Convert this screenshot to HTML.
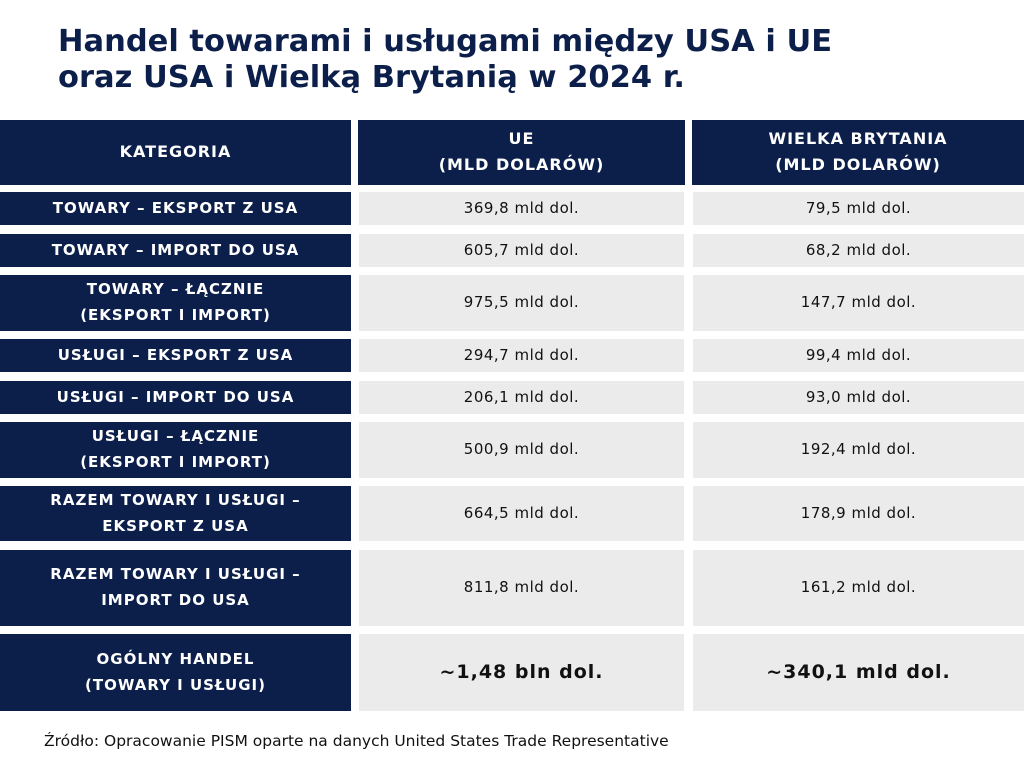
<!DOCTYPE html>
<html><head><meta charset="utf-8"><style>
body{margin:0;width:1024px;height:768px;background:#fff;position:relative;overflow:hidden;font-family:"DejaVu Sans","Liberation Sans",sans-serif}
.t{position:absolute;left:58px;top:24px;font-size:30.5px;font-weight:bold;color:#0c1f4a;line-height:36px}
.c{position:absolute;display:flex;align-items:center;justify-content:center;text-align:center;box-sizing:border-box;padding-bottom:2px}
.n{background:#0c1f4a;color:#fff;font-weight:bold;font-size:15px;letter-spacing:1px;line-height:26px}
.g{background:#ebebeb;color:#111;font-size:15px;letter-spacing:0.5px}
.b{font-weight:bold;font-size:19px;letter-spacing:1px}
.s{position:absolute;left:44px;top:732px;font-size:15.5px;color:#111}
</style></head><body>
<div class="t">Handel towarami i usługami między USA i UE<br>oraz USA i Wielką Brytanią w 2024 r.</div>

<div class="c n" style="left:0;top:120px;width:351px;height:65px;font-size:16px">KATEGORIA</div>
<div class="c n" style="left:358px;top:120px;width:327px;height:65px;font-size:16px">UE<br>(MLD DOLARÓW)</div>
<div class="c n" style="left:692px;top:120px;width:332px;height:65px;font-size:16px">WIELKA BRYTANIA<br>(MLD DOLARÓW)</div>

<div class="c n" style="left:0;top:192px;width:351px;height:33px">TOWARY – EKSPORT Z USA</div>
<div class="c g" style="left:359px;top:192px;width:325px;height:33px">369,8 mld dol.</div>
<div class="c g" style="left:693px;top:192px;width:331px;height:33px">79,5 mld dol.</div>

<div class="c n" style="left:0;top:234px;width:351px;height:33px">TOWARY – IMPORT DO USA</div>
<div class="c g" style="left:359px;top:234px;width:325px;height:33px">605,7 mld dol.</div>
<div class="c g" style="left:693px;top:234px;width:331px;height:33px">68,2 mld dol.</div>

<div class="c n" style="left:0;top:275px;width:351px;height:56px">TOWARY – ŁĄCZNIE<br>(EKSPORT I IMPORT)</div>
<div class="c g" style="left:359px;top:275px;width:325px;height:56px">975,5 mld dol.</div>
<div class="c g" style="left:693px;top:275px;width:331px;height:56px">147,7 mld dol.</div>

<div class="c n" style="left:0;top:339px;width:351px;height:33px">USŁUGI – EKSPORT Z USA</div>
<div class="c g" style="left:359px;top:339px;width:325px;height:33px">294,7 mld dol.</div>
<div class="c g" style="left:693px;top:339px;width:331px;height:33px">99,4 mld dol.</div>

<div class="c n" style="left:0;top:381px;width:351px;height:33px">USŁUGI – IMPORT DO USA</div>
<div class="c g" style="left:359px;top:381px;width:325px;height:33px">206,1 mld dol.</div>
<div class="c g" style="left:693px;top:381px;width:331px;height:33px">93,0 mld dol.</div>

<div class="c n" style="left:0;top:422px;width:351px;height:56px">USŁUGI – ŁĄCZNIE<br>(EKSPORT I IMPORT)</div>
<div class="c g" style="left:359px;top:422px;width:325px;height:56px">500,9 mld dol.</div>
<div class="c g" style="left:693px;top:422px;width:331px;height:56px">192,4 mld dol.</div>

<div class="c n" style="left:0;top:486px;width:351px;height:55px">RAZEM TOWARY I USŁUGI –<br>EKSPORT Z USA</div>
<div class="c g" style="left:359px;top:486px;width:325px;height:55px">664,5 mld dol.</div>
<div class="c g" style="left:693px;top:486px;width:331px;height:55px">178,9 mld dol.</div>

<div class="c n" style="left:0;top:550px;width:351px;height:76px">RAZEM TOWARY I USŁUGI –<br>IMPORT DO USA</div>
<div class="c g" style="left:359px;top:550px;width:325px;height:76px">811,8 mld dol.</div>
<div class="c g" style="left:693px;top:550px;width:331px;height:76px">161,2 mld dol.</div>

<div class="c n" style="left:0;top:634px;width:351px;height:77px">OGÓLNY HANDEL<br>(TOWARY I USŁUGI)</div>
<div class="c g b" style="left:359px;top:634px;width:325px;height:77px">~1,48 bln dol.</div>
<div class="c g b" style="left:693px;top:634px;width:331px;height:77px">~340,1 mld dol.</div>

<div class="s">Źródło: Opracowanie PISM oparte na danych United States Trade Representative</div>
</body></html>
